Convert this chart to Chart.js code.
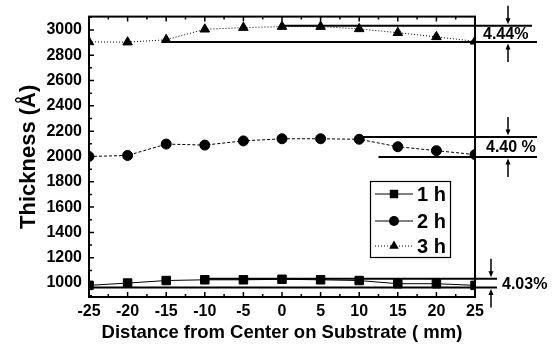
<!DOCTYPE html>
<html>
<head>
<meta charset="utf-8">
<title>Thickness vs distance</title>
<script src="https://cdn.jsdelivr.net/npm/chart.js"></script>
<style>
  html, body { margin: 0; padding: 0; background: #fff; }
  #wrap { width: 557px; height: 349px; }
</style>
</head>
<body>
<div id="wrap"><canvas id="chart" width="557" height="349"></canvas></div>
<script>
// data
const distances = [-25, -20, -15, -10, -5, 0, 5, 10, 15, 20, 25];
const thick1h = [982, 1000, 1020, 1026, 1026, 1030, 1026, 1020, 995, 995, 982];
const thick2h = [2000, 2008, 2098, 2090, 2123, 2140, 2140, 2136, 2077, 2046, 2015];
const thick3h = [2905, 2903, 2922, 3005, 3018, 3026, 3026, 3008, 2978, 2945, 2910];
const seriesNames = ['1 h', '2 h', '3 h'];
const xTicks = [-25, -20, -15, -10, -5, 0, 5, 10, 15, 20, 25];
const yTicks = [1000, 1200, 1400, 1600, 1800, 2000, 2200, 2400, 2600, 2800, 3000];

// spread markers (max / min level lines) per series
const spreadLabels = ['4.03%', '4.40 %', '4.44%'];
const spreadTop = [1034, 2154, 3033];
const spreadBottom = [965, 1995, 2905];
const spreadTopFrom = [-10, 10, 0];
const spreadBottomFrom = [-25, 12.5, -15];

const FONT = '"Liberation Sans", Arial, sans-serif';
Chart.defaults.color = '#000';
Chart.defaults.font.family = FONT;

function marker(ctx, style, x, y, r) {
  ctx.beginPath();
  if (style === 'rect') {
    const s = r * Math.SQRT1_2;
    ctx.rect(x - s, y - s, 2 * s, 2 * s);
  } else if (style === 'circle') {
    ctx.arc(x, y, r, 0, Math.PI * 2);
  } else {
    ctx.moveTo(x, y - r);
    ctx.lineTo(x + r * 0.866, y + r / 2);
    ctx.lineTo(x - r * 0.866, y + r / 2);
    ctx.closePath();
  }
  ctx.fill();
}

function arrow(ctx, x, y0, y1) {
  const dir = y1 > y0 ? 1 : -1;
  ctx.beginPath();
  ctx.moveTo(x, y0);
  ctx.lineTo(x, y1 - dir * 5);
  ctx.stroke();
  ctx.beginPath();
  ctx.moveTo(x, y1);
  ctx.lineTo(x - 2.5, y1 - dir * 6);
  ctx.lineTo(x + 2.5, y1 - dir * 6);
  ctx.closePath();
  ctx.fill();
}

const decorations = {
  id: 'decorations',
  afterDraw(chart) {
    const ctx = chart.ctx;
    const a = chart.chartArea;
    const xs = chart.scales.x, ys = chart.scales.y;
    ctx.save();
    ctx.strokeStyle = '#000';
    ctx.fillStyle = '#000';

    // frame
    ctx.lineWidth = 2;
    ctx.strokeRect(a.left, a.top, a.right - a.left, a.bottom - a.top);

    // inward ticks
    ctx.lineWidth = 1.5;
    ctx.beginPath();
    xTicks.forEach(v => {
      const px = xs.getPixelForValue(v);
      ctx.moveTo(px, a.bottom); ctx.lineTo(px, a.bottom - 5);
      ctx.moveTo(px, a.top); ctx.lineTo(px, a.top + 5);
      if (v < 25) {
        const pm = xs.getPixelForValue(v + 2.5);
        ctx.moveTo(pm, a.bottom); ctx.lineTo(pm, a.bottom - 3);
        ctx.moveTo(pm, a.top); ctx.lineTo(pm, a.top + 3);
      }
    });
    yTicks.forEach(v => {
      const py = ys.getPixelForValue(v);
      ctx.moveTo(a.left, py); ctx.lineTo(a.left + 5, py);
      [v - 100, v + 100].forEach(m => {
        if (m > ys.min && m < ys.max) {
          const pm = ys.getPixelForValue(m);
          ctx.moveTo(a.left, pm); ctx.lineTo(a.left + 3, pm);
        }
      });
    });
    ctx.stroke();

    // spread lines, arrows and labels
    const lineEnd = [[497, 497], [537, 537], [532, 537]];
    const arrowX = [491, 508, 508];
    const labelX = [502, 486, 483];
    ctx.font = 'bold 16px ' + FONT;
    ctx.textBaseline = 'middle';
    ctx.textAlign = 'left';
    spreadLabels.forEach((lab, i) => {
      const yT = ys.getPixelForValue(spreadTop[i]);
      const yB = ys.getPixelForValue(spreadBottom[i]);
      ctx.lineWidth = 2;
      ctx.beginPath();
      ctx.moveTo(xs.getPixelForValue(spreadTopFrom[i]), yT);
      ctx.lineTo(lineEnd[i][0], yT);
      ctx.moveTo(xs.getPixelForValue(spreadBottomFrom[i]), yB);
      ctx.lineTo(lineEnd[i][1], yB);
      ctx.stroke();
      ctx.lineWidth = 1.5;
      arrow(ctx, arrowX[i], yT - 20, yT - 1.5);
      arrow(ctx, arrowX[i], yB + 20, yB + 1.5);
      ctx.fillText(lab, labelX[i], (yT + yB) / 2 + 1);
    });

    // legend
    const box = { x: 370.5, y: 181.5, w: 80, h: 76 };
    ctx.fillStyle = '#fff';
    ctx.fillRect(box.x, box.y, box.w, box.h);
    ctx.fillStyle = '#000';
    ctx.lineWidth = 1.2;
    ctx.strokeRect(box.x, box.y, box.w, box.h);
    const rowY = [194, 221, 246];
    const styles = ['rect', 'circle', 'triangle'];
    const dashes = [[], [], [1, 2]];
    const radii = [6, 5, 5.5];
    ctx.font = 'bold 20px ' + FONT;
    seriesNames.forEach((name, i) => {
      ctx.lineWidth = 1;
      ctx.setLineDash(dashes[i]);
      ctx.beginPath();
      ctx.moveTo(375, rowY[i]);
      ctx.lineTo(413, rowY[i]);
      ctx.stroke();
      ctx.setLineDash([]);
      marker(ctx, styles[i], 394, rowY[i], radii[i]);
      ctx.fillText(name, 417, rowY[i] + 1);
    });
    ctx.restore();
  }
};

const toPoints = vals => vals.map((v, i) => ({ x: distances[i], y: v }));

new Chart(document.getElementById('chart'), {
  type: 'line',
  data: {
    datasets: [
      {
        label: seriesNames[0], data: toPoints(thick1h),
        borderColor: '#000', backgroundColor: '#000', borderWidth: 1,
        pointStyle: 'rect', pointRadius: 6, pointHoverRadius: 6
      },
      {
        label: seriesNames[1], data: toPoints(thick2h),
        borderColor: '#000', backgroundColor: '#000', borderWidth: 1, borderDash: [3, 2],
        pointStyle: 'circle', pointRadius: 5, pointHoverRadius: 5
      },
      {
        label: seriesNames[2], data: toPoints(thick3h),
        borderColor: '#000', backgroundColor: '#000', borderWidth: 1, borderDash: [1, 2],
        pointStyle: 'triangle', pointRadius: 5.5, pointHoverRadius: 5.5
      }
    ]
  },
  options: {
    responsive: false,
    animation: false,
    events: [],
    layout: { padding: { left: 0, right: 82, top: 9, bottom: 0 } },
    plugins: { legend: { display: false }, tooltip: { enabled: false } },
    scales: {
      x: {
        type: 'linear', min: -25, max: 25,
        afterBuildTicks: s => { s.ticks = xTicks.map(v => ({ value: v })); },
        afterFit: s => { s.height = 52; },
        grid: { display: false, drawTicks: false },
        border: { display: false },
        ticks: { padding: 5, font: { size: 16, weight: 'bold' }, maxRotation: 0, callback: v => String(v) },
        title: {
          display: true, text: 'Distance from Center on Substrate ( mm)',
          font: { size: 18.5, weight: 'bold' }, padding: { top: 0, bottom: 5 }
        }
      },
      y: {
        type: 'linear', min: 890, max: 3105,
        afterBuildTicks: s => { s.ticks = yTicks.map(v => ({ value: v })); },
        afterFit: s => { s.width = 89; },
        grid: { display: false, drawTicks: false },
        border: { display: false },
        ticks: { padding: 7, font: { size: 16, weight: 'bold' }, callback: v => String(v) },
        title: {
          display: true, text: 'Thickness (Å)',
          font: { size: 22, weight: 'bold' }, padding: { top: 16, bottom: 0 }
        }
      }
    }
  },
  plugins: [decorations]
});
</script>
</body>
</html>
